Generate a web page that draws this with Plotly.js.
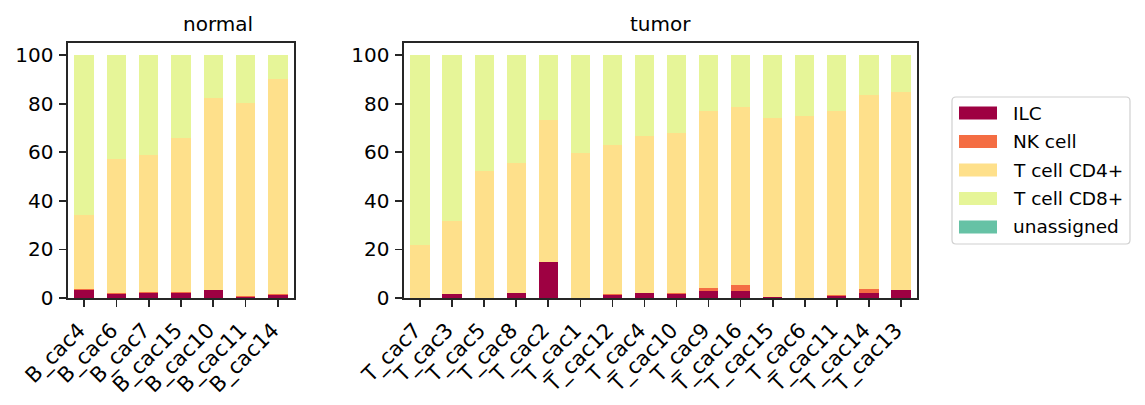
<!DOCTYPE html>
<html>
<head>
<meta charset="utf-8">
<script src="https://cdn.plot.ly/plotly-3.0.1.min.js"></script>
<style>
  html, body { margin: 0; padding: 0; background: #fff; }
  #chart { width: 1145px; height: 405px; }
</style>
</head>
<body>
<div id="chart"></div>
<script>
const cellTypes = ['ILC', 'NK cell', 'T cell CD4+', 'T cell CD8+', 'unassigned'];
const cellColors = ['#9e0142', '#f46d43', '#fee08b', '#e6f598', '#66c2a5'];

const normalSamples = ['B_cac4', 'B_cac6', 'B_cac7', 'B_cac15', 'B_cac10', 'B_cac11', 'B_cac14'];
const normalILC = [3.4, 1.8, 2.2, 2.2, 3.4, 0.4, 1.4];
const normalNK = [0.5, 0.1, 0.4, 0.4, 0.1, 0.3, 0.1];
const normalCD4 = [30.2, 55.3, 56.1, 63.1, 78.8, 79.5, 88.6];
const normalCD8 = [65.9, 42.8, 41.3, 34.3, 17.7, 19.8, 9.9];
const normalUnassigned = [0, 0, 0, 0, 0, 0, 0];

const tumorSamples = ['T_cac7', 'T_cac3', 'T_cac5', 'T_cac8', 'T_cac2', 'T_cac1', 'T_cac12', 'T_cac4',
  'T_cac10', 'T_cac9', 'T_cac16', 'T_cac15', 'T_cac6', 'T_cac11', 'T_cac14', 'T_cac13'];
const tumorILC = [0, 1.8, 0, 2.2, 15.0, 0, 1.4, 2.2, 1.8, 3.0, 3.0, 0.4, 0.2, 1.0, 2.2, 3.4];
const tumorNK = [0, 0, 0, 0, 0, 0, 0.4, 0, 0.4, 1.2, 2.5, 0, 0, 0.4, 1.7, 0];
const tumorCD4 = [22.0, 30.1, 52.5, 53.2, 58.2, 59.6, 61.1, 64.4, 65.6, 72.7, 73.0, 73.6, 74.6, 75.5, 79.6, 81.3];
const tumorCD8 = [78.0, 68.1, 47.5, 44.6, 26.8, 40.4, 37.1, 33.4, 32.2, 23.1, 21.5, 26.0, 25.2, 23.1, 16.5, 15.3];
const tumorUnassigned = new Array(16).fill(0);

const W = 1145, H = 405;
const px = v => v / W;
const py = v => (H - v) / H;
const font = 'DejaVu Sans, sans-serif';
const ink = '#262626';

const normalSeries = [normalILC, normalNK, normalCD4, normalCD8, normalUnassigned];
const tumorSeries = [tumorILC, tumorNK, tumorCD4, tumorCD8, tumorUnassigned];

const traces = [];
cellTypes.forEach((name, i) => {
  traces.push({
    type: 'bar', name, x: normalSamples, y: normalSeries[i],
    marker: { color: cellColors[i], line: { width: 0 } },
    xaxis: 'x', yaxis: 'y', showlegend: false, hoverinfo: 'x+y+name'
  });
  traces.push({
    type: 'bar', name, x: tumorSamples, y: tumorSeries[i],
    marker: { color: cellColors[i], line: { width: 0 } },
    xaxis: 'x2', yaxis: 'y2', showlegend: false, hoverinfo: 'x+y+name'
  });
});

const xBase = {
  type: 'category',
  tickangle: -45,
  ticks: 'outside', ticklen: 7, tickwidth: 1.6, tickcolor: ink,
  ticklabelshift: -5, ticklabelstandoff: 3,
  showline: true, linecolor: ink, linewidth: 1.6, mirror: true,
  showgrid: false, zeroline: false,
  tickfont: { family: font, size: 21, color: '#000' }
};
const yBase = {
  range: [0, 105], dtick: 20,
  ticks: 'outside', ticklen: 7, tickwidth: 1.6, tickcolor: ink,
  ticklabelstandoff: 2,
  showline: true, linecolor: ink, linewidth: 1.6, mirror: true,
  showgrid: false, zeroline: false,
  tickfont: { family: font, size: 20, color: '#000' }
};
const yDomain = [py(298), py(43)];

// legend drawn by hand to mimic the boxed matplotlib legend
const lx0 = 952, lx1 = 1130, ly0 = 97, ly1 = 244, r = 4;
const rx = r / W, ry = r / H;
const X0 = px(lx0), X1 = px(lx1), Y0 = py(ly1), Y1 = py(ly0);
const legendPath = `M${X0 + rx},${Y0} L${X1 - rx},${Y0} Q${X1},${Y0} ${X1},${Y0 + ry} ` +
  `L${X1},${Y1 - ry} Q${X1},${Y1} ${X1 - rx},${Y1} L${X0 + rx},${Y1} Q${X0},${Y1} ${X0},${Y1 - ry} ` +
  `L${X0},${Y0 + ry} Q${X0},${Y0} ${X0 + rx},${Y0} Z`;

const shapes = [{
  type: 'path', xref: 'paper', yref: 'paper', path: legendPath,
  line: { color: '#d0d0d0', width: 1.2 }, fillcolor: 'rgba(255,255,255,0.8)'
}];
const titleFont = { family: font, size: 20, color: '#000' };
const annotations = [
  { text: 'normal', xref: 'paper', yref: 'paper', x: px(181), y: yDomain[1], yanchor: 'bottom',
    yshift: 5, showarrow: false, font: titleFont },
  { text: 'tumor', xref: 'paper', yref: 'paper', x: px(660.5), y: yDomain[1], yanchor: 'bottom',
    yshift: 5, showarrow: false, font: titleFont }
];
cellTypes.forEach((name, i) => {
  const cy = 113 + i * 28.5;
  shapes.push({
    type: 'rect', xref: 'paper', yref: 'paper',
    x0: px(959), x1: px(997), y0: py(cy + 6.5), y1: py(cy - 6.5),
    fillcolor: cellColors[i], line: { width: 0 }
  });
  annotations.push({
    text: name, xref: 'paper', yref: 'paper', x: px(1011), y: py(cy),
    xanchor: 'left', yanchor: 'middle', showarrow: false,
    font: { family: font, size: 18.5, color: '#000' }
  });
});

const layout = {
  width: W, height: H,
  margin: { l: 0, r: 0, t: 0, b: 0 },
  paper_bgcolor: '#fff', plot_bgcolor: '#fff',
  barmode: 'stack', bargap: 0.4,
  showlegend: false,
  xaxis: { ...xBase, domain: [px(68), px(294)], range: [-0.5, 6.5], anchor: 'y' },
  yaxis: { ...yBase, domain: yDomain, anchor: 'x' },
  xaxis2: { ...xBase, domain: [px(404), px(917)], range: [-0.5, 15.5], anchor: 'y2' },
  yaxis2: { ...yBase, domain: yDomain, anchor: 'x2' },
  shapes, annotations
};

Plotly.newPlot('chart', traces, layout, { displayModeBar: false, staticPlot: true });
</script>
</body>
</html>
